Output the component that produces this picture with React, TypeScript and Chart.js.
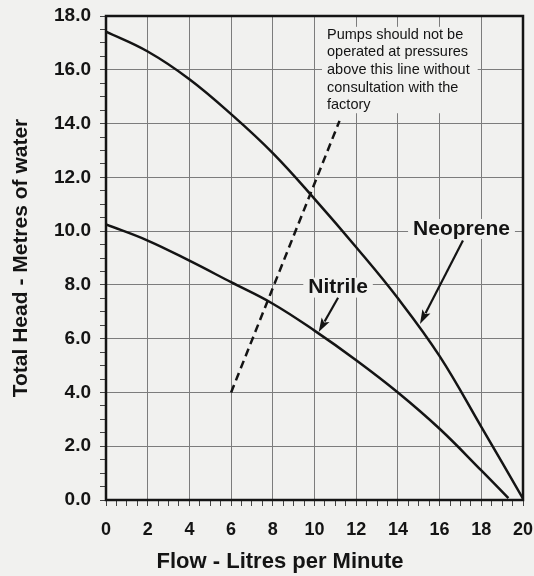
import React, { useEffect, useRef } from 'react';
import { Chart, registerables } from 'chart.js';

Chart.register(...registerables);

// ---- data ----
const neopreneFlow = [0, 2, 4, 6, 8, 10, 12, 14, 16, 18, 20];
const neopreneHead = [17.42, 16.68, 15.65, 14.35, 12.9, 11.2, 9.4, 7.5, 5.35, 2.72, 0.05];
const nitrileFlow = [0, 2, 4, 6, 8, 10, 12, 14, 16, 18, 19.3];
const nitrileHead = [10.25, 9.65, 8.9, 8.1, 7.3, 6.3, 5.2, 4.0, 2.65, 1.1, 0.07];
const limitFlow = [6, 11.2];
const limitHead = [4.0, 14.1];

const xTitle = 'Flow - Litres per Minute';
const yTitle = 'Total Head - Metres of water';
const noteLines = [
  'Pumps should not be',
  'operated at pressures',
  'above this line without',
  'consultation with the',
  'factory',
];
const neopreneLabel = 'Neoprene';
const nitrileLabel = 'Nitrile';

// annotation anchors in data units
const noteAnchor = { x: 10.6, y: 17.3 };
const neopreneLabelAt = { x: 17.05, y: 10.08 };
const nitrileLabelAt = { x: 11.13, y: 7.9 };
const neopreneArrow = { from: { x: 17.12, y: 9.65 }, to: { x: 15.06, y: 6.55 } };
const nitrileArrow = { from: { x: 11.13, y: 7.52 }, to: { x: 10.2, y: 6.25 } };

const FONT = '"Liberation Sans", Arial, Helvetica, sans-serif';
const BG = '#f1f1ef';
const GRID = '#7c7c7c';
const INK = '#141414';

function toPts(xs: number[], ys: number[]) {
  return xs.map((x, i) => ({ x, y: ys[i] }));
}

function drawArrow(ctx: CanvasRenderingContext2D, x1: number, y1: number, x2: number, y2: number) {
  const ang = Math.atan2(y2 - y1, x2 - x1);
  const headLen = 14;
  const headHalf = 4.5;
  const bx = x2 - headLen * Math.cos(ang);
  const by = y2 - headLen * Math.sin(ang);
  ctx.save();
  ctx.strokeStyle = INK;
  ctx.fillStyle = INK;
  ctx.lineWidth = 2.2;
  ctx.beginPath();
  ctx.moveTo(x1, y1);
  ctx.lineTo(bx + 2 * Math.cos(ang), by + 2 * Math.sin(ang));
  ctx.stroke();
  ctx.beginPath();
  ctx.moveTo(x2, y2);
  ctx.lineTo(bx - headHalf * Math.sin(ang), by + headHalf * Math.cos(ang));
  ctx.lineTo(bx + 3 * Math.cos(ang), by + 3 * Math.sin(ang));
  ctx.lineTo(bx + headHalf * Math.sin(ang), by - headHalf * Math.cos(ang));
  ctx.closePath();
  ctx.fill();
  ctx.restore();
}

const annotationPlugin = {
  id: 'pumpAnnotations',
  beforeDraw(chart: any) {
    const { ctx, width, height } = chart;
    ctx.save();
    ctx.fillStyle = BG;
    ctx.fillRect(0, 0, width, height);
    ctx.restore();
  },
  beforeDatasetsDraw(chart: any) {
    const { ctx } = chart;
    const xs = chart.scales.x;
    const ys = chart.scales.y;
    ctx.save();
    ctx.fillStyle = BG;
    ctx.font = `14.5px ${FONT}`;
    const nx = xs.getPixelForValue(noteAnchor.x);
    const ny = ys.getPixelForValue(noteAnchor.y);
    let maxW = 0;
    noteLines.forEach((l) => { maxW = Math.max(maxW, ctx.measureText(l).width); });
    ctx.fillRect(nx - 5, ny - 8, maxW + 13, 17.6 * (noteLines.length - 1) + 16);
    ctx.font = `bold 21px ${FONT}`;
    [[neopreneLabel, neopreneLabelAt], [nitrileLabel, nitrileLabelAt]].forEach(([t, p]: any) => {
      const w = ctx.measureText(t).width;
      const px = xs.getPixelForValue(p.x);
      const py = ys.getPixelForValue(p.y);
      ctx.fillRect(px - w / 2 - 5, py - 10, w + 10, 20);
    });
    ctx.restore();
  },
  afterDatasetsDraw(chart: any) {
    const { ctx, chartArea } = chart;
    const xs = chart.scales.x;
    const ys = chart.scales.y;
    ctx.save();
    ctx.strokeStyle = INK;
    ctx.lineWidth = 2.5;
    ctx.strokeRect(chartArea.left, chartArea.top, chartArea.right - chartArea.left, chartArea.bottom - chartArea.top);

    ctx.fillStyle = INK;
    ctx.font = `14.5px ${FONT}`;
    ctx.textAlign = 'left';
    ctx.textBaseline = 'middle';
    const nx = xs.getPixelForValue(noteAnchor.x);
    const ny = ys.getPixelForValue(noteAnchor.y);
    noteLines.forEach((l, i) => ctx.fillText(l, nx, ny + i * 17.6));

    ctx.font = `bold 21px ${FONT}`;
    ctx.textAlign = 'center';
    ctx.fillText(neopreneLabel, xs.getPixelForValue(neopreneLabelAt.x), ys.getPixelForValue(neopreneLabelAt.y));
    ctx.fillText(nitrileLabel, xs.getPixelForValue(nitrileLabelAt.x), ys.getPixelForValue(nitrileLabelAt.y));

    [neopreneArrow, nitrileArrow].forEach((a) => {
      drawArrow(
        ctx,
        xs.getPixelForValue(a.from.x), ys.getPixelForValue(a.from.y),
        xs.getPixelForValue(a.to.x), ys.getPixelForValue(a.to.y),
      );
    });

    // x-axis title (offset left of the plot centre, as in the original)
    ctx.font = `bold 22px ${FONT}`;
    ctx.textAlign = 'center';
    ctx.textBaseline = 'middle';
    ctx.fillText(xTitle, 280, 562);
    ctx.restore();
  },
};

export default function App() {
  const canvasRef = useRef<HTMLCanvasElement | null>(null);

  useEffect(() => {
    if (!canvasRef.current) return;
    const gridColor = (c: any) => (c.tick && Math.abs(c.tick.value % 2) < 1e-6 ? GRID : 'rgba(0,0,0,0)');
    const chart = new Chart(canvasRef.current, {
      type: 'scatter',
      data: {
        datasets: [
          {
            label: 'Neoprene',
            data: toPts(neopreneFlow, neopreneHead),
            showLine: true,
            borderColor: INK,
            borderWidth: 2.5,
            pointRadius: 0,
            tension: 0.4,
            fill: false,
          },
          {
            label: 'Nitrile',
            data: toPts(nitrileFlow, nitrileHead),
            showLine: true,
            borderColor: INK,
            borderWidth: 2.5,
            pointRadius: 0,
            tension: 0.4,
            fill: false,
          },
          {
            label: 'Limit',
            data: toPts(limitFlow, limitHead),
            showLine: true,
            borderColor: INK,
            borderWidth: 2.5,
            borderDash: [8, 5],
            pointRadius: 0,
            fill: false,
          },
        ],
      },
      options: {
        responsive: false,
        animation: false,
        layout: { padding: { top: 16, right: 11, left: 0, bottom: 0 } },
        plugins: {
          legend: { display: false },
          tooltip: { enabled: false },
        },
        scales: {
          x: {
            type: 'linear',
            min: 0,
            max: 20,
            afterFit: (s: any) => { s.height = 76; s.paddingLeft = 0; s.paddingRight = 0; },
            border: { display: false },
            grid: { color: gridColor, tickColor: '#444', tickLength: 6, lineWidth: 1 },
            ticks: {
              stepSize: 0.5,
              autoSkip: false,
              maxRotation: 0,
              padding: 13,
              color: INK,
              font: { family: FONT, size: 18, weight: 'bold' },
              callback: (v: any) => (Math.abs(v % 2) < 1e-6 ? String(v) : ''),
            },
            title: { display: false, text: xTitle },
          },
          y: {
            type: 'linear',
            min: 0,
            max: 18,
            afterFit: (s: any) => { s.width = 106; s.paddingTop = 0; s.paddingBottom = 0; },
            border: { display: false },
            grid: { color: gridColor, tickColor: '#444', tickLength: 6, lineWidth: 1 },
            ticks: {
              stepSize: 0.5,
              autoSkip: false,
              padding: 9,
              color: INK,
              font: { family: FONT, size: 19, weight: 'bold' },
              callback: (v: any) => (Math.abs(v % 2) < 1e-6 ? Number(v).toFixed(1) : ''),
            },
            title: {
              display: true,
              text: yTitle,
              color: INK,
              font: { family: FONT, size: 21, weight: 'bold', lineHeight: 1.2 },
              padding: { top: 9, bottom: 0 },
            },
          },
        },
      },
      plugins: [annotationPlugin],
    } as any);
    return () => chart.destroy();
  }, []);

  return (
    <div style={{ position: 'absolute', left: 0, top: 0, width: 534, height: 576, background: BG }}>
      <canvas ref={canvasRef} width={534} height={576} style={{ display: 'block' }} />
    </div>
  );
}
